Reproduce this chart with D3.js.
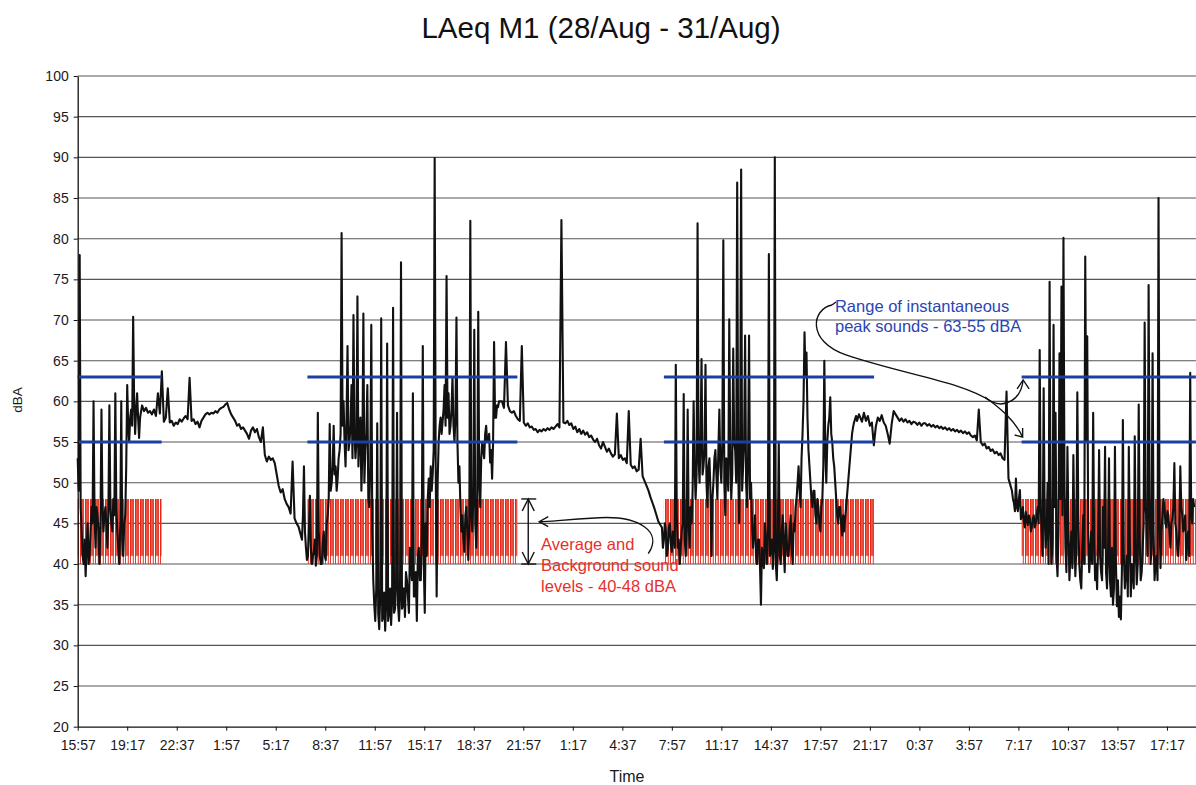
<!DOCTYPE html>
<html>
<head>
<meta charset="utf-8">
<script src="https://cdn.jsdelivr.net/npm/d3@7"></script>
<style>
  body { margin: 0; background: #fff; }
  svg { display: block; }
  text { font-family: "Liberation Sans", Arial, sans-serif; }
</style>
</head>
<body>
<svg id="chart" width="1196" height="785"></svg>
<script>
// ---------------- data ----------------
const chartTitle = "LAeq M1 (28/Aug - 31/Aug)";
const yAxisTitle = "dBA";
const xAxisTitle = "Time";
const yTickValues = [20, 25, 30, 35, 40, 45, 50, 55, 60, 65, 70, 75, 80, 85, 90, 95, 100];
const xStart = "2009-08-28T15:57";
const xEnd = "2009-08-31T19:14";
const xTickLabels = ["15:57", "19:17", "22:37", "1:57", "5:17", "8:37", "11:57", "15:17", "18:37", "21:57",
  "1:17", "4:37", "7:57", "11:17", "14:37", "17:57", "21:17", "0:37", "3:57", "7:17", "10:37", "13:57", "17:17"];
const xTickStepMinutes = 200;

// LAeq readings (dBA) in blocks: first timestamp and sampling step (minutes) of each block
const segmentStarts = ["2009-08-28T15:57", "2009-08-28T20:17", "2009-08-29T07:03", "2009-08-29T20:31",
  "2009-08-30T07:17", "2009-08-30T20:45", "2009-08-31T06:51"];
const segmentSteps = [4, 8, 4, 8, 4, 8, 4];
const laeq28Day = [53, 49, 78, 47, 44, 41, 40, 43, 38.5, 42, 45, 40, 41, 44, 47, 45, 60, 46, 42, 47, 46, 44, 40, 45,
  59, 47, 44, 46, 47, 45, 42, 46, 59.5, 47, 45, 44, 48, 46, 61, 47, 44, 42, 40, 45, 60, 43, 41, 45, 46, 52, 62, 57,
  55, 58, 59, 57, 70.4, 60, 56, 59, 61, 58, 55.5, 58];
const laeq28Night = [59.5, 58.8, 59.2, 58.6, 58.8, 58.4, 59.0, 58.2, 61.0, 58.5, 63.7, 57.5, 58.0, 61.6, 57.4, 57.6,
  57.0, 57.4, 57.2, 57.8, 57.5, 57.9, 58.2, 57.8, 62.9, 57.6, 57.8, 57.2, 57.5, 56.8, 57.6, 58.0, 58.4, 58.6, 58.4,
  58.6, 58.5, 58.8, 58.6, 59.0, 59.2, 59.3, 59.6, 59.8, 59.0, 58.4, 58.0, 57.6, 57.0, 57.2, 56.6, 56.8, 56.4, 56.0,
  55.4, 56.4, 56.8, 56.2, 56.6, 55.6, 55.0, 56.8, 53.4, 52.6, 53.2, 52.8, 53.0, 52.4, 51.0, 49.6, 48.8, 49.2, 48.0,
  47.4, 47.0, 46.2, 52.6, 45.6, 45.0, 44.6];
const laeq29Day = [43, 46, 52, 44, 42, 40.5, 41, 44, 48.4, 42, 40, 41, 41.5, 43, 39.8, 41, 58.6, 44, 41, 40, 40, 42.5,
  44, 41, 40.5, 45, 46, 48, 57.2, 49, 50, 52, 57, 51, 52, 49, 50.5, 53, 54, 56, 80.7, 57, 60, 55, 52, 58, 66.8, 54,
  55, 57, 62, 53, 70.6, 56, 53, 55, 72.9, 52, 56, 58, 49, 54, 70.8, 50, 54, 56, 62, 48, 47, 52, 69.4, 44, 38, 35, 33,
  37, 57.3, 34, 32, 36, 70.2, 33, 33.5, 36.5, 31.8, 35, 67.1, 33, 34, 37, 32.5, 35.5, 71.5, 34, 34.5, 37.5, 58.6, 35,
  33, 36, 77.1, 34.5, 35, 37, 33.5, 39, 38, 36, 34, 42, 40, 38, 61, 36, 36, 39, 33, 41, 42, 38, 38, 44, 66.8, 40, 34,
  45, 41, 48, 50.5, 47, 52, 49, 51, 54, 89.9, 53, 36, 50, 55, 57, 58, 56, 57.5, 59, 62, 57, 75.4, 58, 61, 56, 57, 59,
  63, 57, 55, 58, 70.3, 55, 50, 52, 47, 44, 46, 43, 41.5, 46, 47, 44, 40.5, 45, 82.2, 46, 44, 48, 68.8, 45, 42, 47,
  71, 50, 47, 53, 55, 54, 53, 56, 57, 55, 55, 56, 52.5, 54, 50.5, 55, 67.3, 58, 58, 59.5, 59.3, 60];
const laeq29Night = [60, 59.2, 67.3, 59.5, 58.8, 58.6, 58.8, 58.2, 57.8, 57.6, 66.8, 57.4, 57.0, 57.3, 56.8, 56.9,
  56.5, 56.6, 56.2, 56.5, 56.3, 56.6, 56.4, 56.7, 56.5, 56.8, 56.6, 56.9, 57.2, 56.8, 82.3, 57.4, 57.3, 57.6, 57.1,
  57.3, 56.6, 56.9, 56.2, 56.6, 56.0, 56.4, 55.9, 56.2, 55.6, 55.8, 55.3, 55.0, 55.4, 54.6, 54.2, 55.0, 54.4, 53.8,
  54.2, 53.6, 53.2, 53.5, 58.5, 53.0, 53.4, 52.8, 53.0, 52.4, 58.8, 52.2, 51.8, 52.0, 51.4, 51.6, 55.4, 50.8, 50.2,
  49.6, 49.0, 48.2, 47.5, 46.8, 46.0, 45.2];
const laeq30Day = [44.5, 42, 43, 45, 44, 41, 42, 44.5, 45, 42.5, 41.5, 44, 43, 42, 64.5, 46, 42, 43, 40, 42, 44, 45,
  60.9, 43, 41, 44, 59, 45, 42, 47, 45, 49, 60, 52, 48, 51, 81.9, 53, 50, 55, 65.2, 51, 52, 54, 64.5, 50, 47, 52, 53,
  49, 41, 48, 50, 53, 54, 51, 48, 54, 59, 52, 50, 55, 79.8, 50, 46, 53, 52, 49, 70.1, 54, 48, 51, 66.5, 55, 54, 50,
  86.9, 52, 45, 54, 88.5, 49, 52, 55, 68.1, 50, 47, 53, 68.1, 48, 50, 45, 42, 44, 46, 41, 40, 43, 43, 40, 35, 42, 41,
  39.5, 45, 43, 40, 44, 78.1, 41, 42, 43, 39.4, 42, 90, 40, 38, 43, 55, 41, 40, 44, 46, 42, 39, 45, 43, 41, 41, 44,
  46, 42, 40, 45, 44, 47, 48, 50, 52, 49, 47, 53, 56, 60, 68.5, 63, 66, 58, 54, 52, 50, 48, 47, 49, 49, 46, 45, 48,
  47, 45, 44, 47, 48, 52, 65, 54, 50, 55, 57, 58, 60.5, 56, 55, 53, 52, 50, 48, 46, 45, 47, 47, 45, 43.5, 46, 44,
  45.5, 47, 48.5, 50, 51.5, 53, 54.5, 56, 56.8, 57.4, 57.8, 58.2, 57.6, 58, 58.4];
const laeq30Night = [57.5, 58.6, 57.6, 58.2, 57.0, 57.4, 54.6, 56.9, 58.0, 57.6, 58.3, 57.4, 57.0, 56.0, 54.8, 57.2,
  58.8, 58.4, 58.0, 57.6, 57.9, 57.5, 57.8, 57.4, 57.6, 57.2, 57.5, 57.4, 57.1, 57.4, 57.0, 57.3, 57.3, 57.0, 57.2,
  56.9, 57.1, 56.8, 57.0, 56.7, 56.9, 56.6, 56.8, 56.5, 56.7, 56.4, 56.6, 56.3, 56.5, 56.2, 56.4, 56.1, 56.3, 56.0,
  56.2, 55.8, 55.6, 55.8, 55.2, 59.0, 55.0, 54.6, 54.8, 54.2, 54.4, 53.9, 54.1, 53.6, 53.8, 53.4, 53.6, 53.0, 52.8,
  61.2, 50.5];
const laeq31Day = [49.0, 48, 47.5, 46.5, 50.5, 47, 46.5, 48, 49.1, 45.5, 46.0, 47, 45.2, 44.5, 46.4, 45.5, 44.8, 46,
  45.6, 44, 44.5, 45.5, 46.0, 44.5, 45.0, 46, 47.0, 45, 66.3, 47, 44, 41, 61.6, 46, 42, 44, 50, 40, 74.7, 45, 40, 43,
  69.4, 47, 58.6, 41, 38.5, 44, 65.9, 48, 74.1, 46, 80.1, 50, 42, 39, 54.4, 45, 38, 41, 44, 39.5, 53.4, 44, 38.5, 42,
  61.1, 46, 40, 38, 37, 42, 46, 40, 77.8, 55, 68.0, 44, 39, 41, 44, 40, 58.6, 43, 38, 40, 36.9, 43, 54, 41, 39, 38,
  47, 42, 54.4, 39, 37, 41, 53, 38, 36, 42, 35, 37, 54.4, 40, 34.8, 38, 33.5, 36, 33.2, 39, 57.7, 41, 37, 39, 41, 36,
  54.4, 43, 36, 40, 39, 37, 55.7, 42, 37.5, 40, 59.6, 43, 38, 39, 42, 45, 69.7, 47, 45, 41, 74.3, 48, 40, 42, 65.9,
  44, 38, 40, 41, 38, 85.0, 46, 39.5, 44, 46, 48, 47, 45, 44.5, 46.5, 46, 44, 42, 45, 45.5, 47, 52.4, 45, 44, 42, 41,
  44, 52.0, 47, 46, 44, 45, 46, 40.5, 43, 44, 41, 63.5, 46, 45, 48, 47];
const segmentValues = [laeq28Day, laeq28Night, laeq29Day, laeq29Night, laeq30Day, laeq30Night, laeq31Day];

// daytime assessment periods (reference bands)
const periodStarts = ["2009-08-28T15:57", "2009-08-29T07:25", "2009-08-30T07:25", "2009-08-31T07:30"];
const periodEnds = ["2009-08-28T21:36", "2009-08-29T21:33", "2009-08-30T21:34", "2009-08-31T19:14"];
const backgroundRange = [40, 48];
const peakRange = [55, 63];

const bgNoteLines = ["Average and", "Background sound", "levels - 40-48 dBA"];
const peakNoteLines = ["Range of instantaneous", "peak sounds - 63-55 dBA"];
const bgArrowTime = "2009-08-29T22:17";
const bgNoteTime = "2009-08-29T23:09";
const peakNoteTime = "2009-08-30T18:56";

// ---------------- drawing ----------------
const parse = d3.timeParse("%Y-%m-%dT%H:%M");
const svg = d3.select("#chart");
const plotLeft = 77.7, plotRight = 1195.9, plotTop = 76, plotBottom = 726.7;

const x = d3.scaleTime().domain([parse(xStart), parse(xEnd)]).range([plotLeft, plotRight]);
const y = d3.scaleLinear().domain([20, 100]).range([plotBottom, plotTop]);

// title
svg.append("text")
  .attr("x", 601).attr("y", 38)
  .attr("text-anchor", "middle")
  .attr("font-size", 29.5)
  .attr("fill", "#111")
  .text(chartTitle);

// horizontal gridlines
svg.append("g").selectAll("line")
  .data(yTickValues.filter(v => v > 20))
  .join("line")
  .attr("x1", plotLeft).attr("x2", plotRight)
  .attr("y1", d => y(d)).attr("y2", d => y(d))
  .attr("stroke", "#555").attr("stroke-width", 1.1);

// background band hatch pattern (style only)
const defs = svg.append("defs");
const bandTop = y(backgroundRange[1]), bandBot = y(backgroundRange[0]);
const bandH = bandBot - bandTop;
const bodyH = y(41) - bandTop;
const pat = defs.append("pattern").attr("id", "bgHatch")
  .attr("patternUnits", "userSpaceOnUse")
  .attr("x", 0).attr("y", bandTop).attr("width", 5).attr("height", bandH);
pat.append("rect").attr("x", 0).attr("y", 0).attr("width", 3.7).attr("height", bodyH).attr("fill", "#ec5443");
pat.append("rect").attr("x", 0).attr("y", 0).attr("width", 0.9).attr("height", bandH).attr("fill", "#df2418");
pat.append("rect").attr("x", 2.8).attr("y", 0).attr("width", 0.9).attr("height", bandH).attr("fill", "#df2418");

const periods = periodStarts.map((s, i) => ({ start: parse(s), end: parse(periodEnds[i]) }));

svg.append("g").selectAll("rect")
  .data(periods)
  .join("rect")
  .attr("x", d => x(d.start)).attr("width", d => x(d.end) - x(d.start))
  .attr("y", bandTop).attr("height", bandH)
  .attr("fill", "url(#bgHatch)");

// LAeq line
const points = [];
segmentValues.forEach((vals, si) => {
  const t0 = parse(segmentStarts[si]);
  vals.forEach((v, i) => points.push({ t: d3.timeMinute.offset(t0, i * segmentSteps[si]), v }));
});
svg.append("path")
  .datum(points)
  .attr("fill", "none")
  .attr("stroke", "#111")
  .attr("stroke-width", 2.1)
  .attr("stroke-linejoin", "round")
  .attr("d", d3.line().x(d => x(d.t)).y(d => y(d.v)));

// peak range lines
const peakLines = [];
periods.forEach(p => peakRange.forEach(v => peakLines.push({ start: p.start, end: p.end, v })));
svg.append("g").selectAll("line")
  .data(peakLines)
  .join("line")
  .attr("x1", d => x(d.start)).attr("x2", d => x(d.end))
  .attr("y1", d => y(d.v)).attr("y2", d => y(d.v))
  .attr("stroke", "#1c3fa2").attr("stroke-width", 3);

// axes
const xTickDates = xTickLabels.map((l, i) => d3.timeMinute.offset(parse(xStart), i * xTickStepMinutes));
const xAxis = svg.append("g")
  .attr("transform", `translate(0,${plotBottom})`)
  .call(d3.axisBottom(x).tickValues(xTickDates).tickFormat((d, i) => xTickLabels[i]).tickSize(4).tickSizeOuter(0));
xAxis.select(".domain").attr("stroke", "#111").attr("stroke-width", 1.3);
xAxis.selectAll(".tick line").attr("stroke", "#111");
xAxis.selectAll("text").attr("font-size", 14).attr("fill", "#1a1a1a").attr("dy", "1.15em")
  .style("font-family", "'Liberation Sans', Arial, sans-serif");

const yAxis = svg.append("g")
  .attr("transform", `translate(${plotLeft},0)`)
  .call(d3.axisLeft(y).tickValues(yTickValues).tickSize(4).tickSizeOuter(0));
yAxis.select(".domain").attr("stroke", "#111").attr("stroke-width", 1.3);
yAxis.selectAll(".tick line").attr("stroke", "#111");
yAxis.selectAll("text").attr("font-size", 14).attr("fill", "#1a1a1a").attr("x", -9)
  .style("font-family", "'Liberation Sans', Arial, sans-serif");

svg.append("text")
  .attr("x", 627).attr("y", 782)
  .attr("text-anchor", "middle").attr("font-size", 16).attr("fill", "#1a1a1a")
  .text(xAxisTitle);
svg.append("text")
  .attr("transform", "translate(22,400) rotate(-90)")
  .attr("text-anchor", "middle").attr("font-size", 13.5).attr("fill", "#1a1a1a")
  .text(yAxisTitle);

// ---------------- annotations ----------------
const ann = svg.append("g").attr("fill", "none").attr("stroke", "#111").attr("stroke-width", 1.4);

// background double arrow
const ax = x(parse(bgArrowTime));
const aTop = y(backgroundRange[1]), aBot = y(backgroundRange[0]);
ann.append("line").attr("x1", ax).attr("x2", ax).attr("y1", aTop).attr("y2", aBot);
ann.append("line").attr("x1", ax - 7).attr("x2", ax + 8).attr("y1", aTop).attr("y2", aTop);
ann.append("line").attr("x1", ax - 7).attr("x2", ax + 8).attr("y1", aBot).attr("y2", aBot);
ann.append("path").attr("d", `M${ax - 6},${aTop + 12}L${ax},${aTop}L${ax + 6},${aTop + 12}`);
ann.append("path").attr("d", `M${ax - 6},${aBot - 12}L${ax},${aBot}L${ax + 6},${aBot - 12}`);

// curved arrow from the red note to the band
const tipX = ax + 11, tipY = y(45.2);
ann.append("path").attr("d",
  `M${tipX + 109},${tipY + 32} C${tipX + 124},${tipY + 10} ${tipX + 100},${tipY - 6} ${tipX + 60},${tipY - 4} ` +
  `S${tipX + 14},${tipY} ${tipX},${tipY}`);
ann.append("path").attr("d", `M${tipX + 9},${tipY - 5}L${tipX},${tipY}L${tipX + 9},${tipY + 5}`);

// red note
const bgText = svg.append("text")
  .attr("x", x(parse(bgNoteTime))).attr("y", y(41.7))
  .attr("font-size", 16.5).attr("fill", "#e8302a");
bgNoteLines.forEach((l, i) => bgText.append("tspan")
  .attr("x", x(parse(bgNoteTime))).attr("dy", i === 0 ? 0 : 21).text(l));

// blue note
const pnx = x(parse(peakNoteTime));
const peakText = svg.append("text")
  .attr("x", pnx).attr("y", y(71.0))
  .attr("font-size", 16.5).attr("fill", "#2a45b5");
peakNoteLines.forEach((l, i) => peakText.append("tspan")
  .attr("x", pnx).attr("dy", i === 0 ? 0 : 20).text(l));

// curved arrows from the blue note to the peak lines
const px0 = x(periods[3].start);
const y63 = y(peakRange[1]), y55 = y(peakRange[0]);
const sx = pnx - 3, sy = y63 - 72;
ann.append("path").attr("d", `M${sx + 4},${sy - 3}L${sx},${sy}`);
ann.append("path").attr("d",
  `M${sx},${sy} C${sx - 20},${sy + 4} ${sx - 26},${sy + 36} ${sx + 14},${sy + 50} ` +
  `C${sx + 73},${sy + 70} ${sx + 128},${sy + 76} ${sx + 160},${y63 + 25}`);
const aTipX = px0 + 1.5, aTipY = y63 + 3;
ann.append("path").attr("d",
  `M${sx + 160},${y63 + 25} C${sx + 173},${y63 + 31} ${aTipX - 2},${y63 + 23} ${aTipX},${aTipY}`);
ann.append("path").attr("d", `M${aTipX - 6},${aTipY + 9}L${aTipX},${aTipY}L${aTipX + 6},${aTipY + 9}`);
const bTipX = px0 + 1, bTipY = y55 - 5;
ann.append("path").attr("d",
  `M${sx + 153},${y63 + 20} C${sx + 168},${y63 + 31} ${bTipX - 8},${bTipY - 17} ${bTipX},${bTipY}`);
ann.append("path").attr("d", `M${bTipX},${bTipY - 9}L${bTipX},${bTipY}L${bTipX - 8},${bTipY - 2}`);
</script>
</body>
</html>
